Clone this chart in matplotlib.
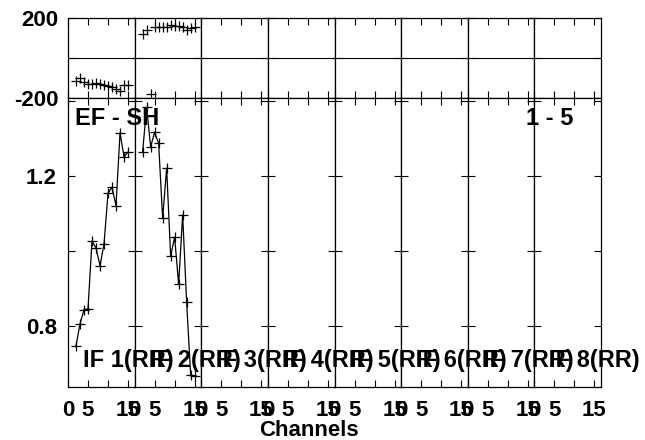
import matplotlib
matplotlib.use("Agg")
import matplotlib.pyplot as plt
import numpy as np

plt.rcParams['font.family'] = ['Liberation Sans', 'DejaVu Sans']
plt.rcParams['font.weight'] = 'bold'

# ---- data ----
channels = [2, 3, 4, 5, 6, 7, 8, 9, 10, 11, 12, 13, 14, 15]

if1_phase = [-113, -102, -118, -130, -130, -127, -130, -135, -140, -143, -155, -165, -135, -135]
if1_amp = [0.746, 0.805, 0.842, 0.845, 1.026, 1.007, 0.960, 1.018, 1.153, 1.169, 1.120, 1.314, 1.250, 1.263]

if2_phase = [120, 140, -180, 153, 153, 153, 157, 165, 160, 160, 153, 140, 152, 157]
if2_amp = [1.264, 1.382, 1.277, 1.316, 1.286, 1.086, 1.220, 0.986, 1.036, 0.910, 1.095, 0.862, 0.669, 0.665]

if_labels = ["IF 1(RR)", "IF 2(RR)", "IF 3(RR)", "IF 4(RR)",
             "IF 5(RR)", "IF 6(RR)", "IF 7(RR)", "IF 8(RR)"]
phase_series = [if1_phase, if2_phase]
amp_series = [if1_amp, if2_amp]

x_ticks = [0, 5, 10, 15]
x_ticklabels = ["0", "5", "", "15"]
phase_ticks = [-200, 0, 200]
phase_ticklabels = ["-200", "", "200"]
amp_ticks = [0.8, 1.0, 1.2, 1.4]
amp_ticklabels = ["0.8", "", "1.2", ""]

# ---- layout ----
W, H = 645, 440
fig = plt.figure(figsize=(W / 100, H / 100), dpi=100)
left_px, right_px = 68, 601
pw = (right_px - left_px) / 8
top_y0, top_y1 = 18, 98
bot_y1 = 387

FS_TICK = 16
for i in range(8):
    x0 = left_px + i * pw
    axp = fig.add_axes([x0 / W, 1 - top_y1 / H, pw / W, (top_y1 - top_y0) / H])
    axa = fig.add_axes([x0 / W, 1 - bot_y1 / H, pw / W, (bot_y1 - top_y1) / H])
    for ax in (axp, axa):
        ax.set_xlim(0, 16.65)
        ax.set_xticks(x_ticks)
        ax.tick_params(direction='in', top=True, right=True, length=5, width=0.8,
                       labelsize=FS_TICK)
        for s in ax.spines.values():
            s.set_linewidth(0.9)
    axp.set_ylim(-200, 200)
    axp.axhline(0, color='black', lw=0.8)
    axp.set_yticks(phase_ticks)
    axp.set_xticklabels([])
    axa.set_ylim(0.6365, 1.407)
    axa.set_yticks(amp_ticks)
    axa.set_xticklabels(x_ticklabels, fontweight='bold')
    axa.tick_params(axis='x', pad=9)
    if i == 0:
        axp.set_yticklabels(phase_ticklabels, fontweight='bold')
        axa.set_yticklabels(amp_ticklabels, fontweight='bold')
        axp.tick_params(axis='y', pad=7)
        axa.tick_params(axis='y', pad=8)
    else:
        axp.set_yticklabels([])
        axa.set_yticklabels([])
    if i < len(amp_series):
        axp.plot(channels, phase_series[i], linestyle='none', marker='+',
                 color='black', markersize=7, markeredgewidth=0.9)
        axa.plot(channels, amp_series[i], linestyle='-', marker='+',
                 color='black', lw=0.9, markersize=7, markeredgewidth=0.9)
    fig.text((x0 + 15) / W, 1 - 367 / H, if_labels[i], fontsize=17,
             fontweight='bold', ha='left', va='baseline')

fig.text(75 / W, 1 - 125 / H, "EF - SH", fontsize=17, fontweight='bold',
         ha='left', va='baseline')
fig.text(573 / W, 1 - 125 / H, "1 - 5", fontsize=17, fontweight='bold',
         ha='right', va='baseline')
fig.text(309 / W, 1 - 436 / H, "Channels", fontsize=16,
         fontweight='bold', ha='center', va='baseline')

fig.savefig("out.png", dpi=100)
